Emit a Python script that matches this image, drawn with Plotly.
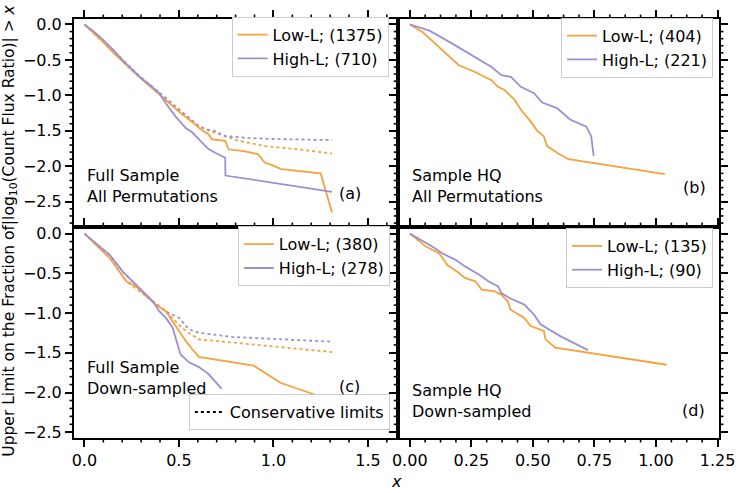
import plotly.graph_objects as go

ORANGE = "#f5a13d"
PURPLE = "#9c90d2"
FONT = "DejaVu Sans"
FS = 16

# ---------------- Panel (a): Full sample, all permutations ----------------
a_low_x = [0, 0.05, 0.10, 0.15, 0.222, 0.309, 0.36, 0.43, 0.509, 0.587, 0.62, 0.658, 0.675, 0.745, 0.763, 0.85, 0.92, 0.955, 0.99, 1.04, 1.25, 1.31]
a_low_y = [0, -0.12, -0.25, -0.39, -0.575, -0.785, -0.90, -1.06, -1.25, -1.41, -1.49, -1.55, -1.62, -1.64, -1.76, -1.79, -1.83, -1.95, -1.98, -2.04, -2.10, -2.65]
a_high_x = [0, 0.05, 0.10, 0.15, 0.203, 0.25, 0.292, 0.34, 0.397, 0.43, 0.483, 0.536, 0.57, 0.606, 0.658, 0.70, 0.745, 0.746, 1.31]
a_high_y = [0, -0.10, -0.22, -0.35, -0.505, -0.62, -0.737, -0.84, -0.97, -1.11, -1.30, -1.46, -1.52, -1.62, -1.76, -1.82, -1.88, -2.13, -2.36]
a_low_cons_x = [0, 0.10, 0.222, 0.309, 0.43, 0.48, 0.536, 0.58, 0.64, 0.70, 0.745, 0.816, 0.955, 1.13, 1.31]
a_low_cons_y = [0, -0.25, -0.575, -0.785, -1.06, -1.17, -1.30, -1.39, -1.48, -1.54, -1.575, -1.64, -1.715, -1.76, -1.82]
a_high_cons_x = [0, 0.10, 0.203, 0.292, 0.397, 0.45, 0.50, 0.553, 0.606, 0.65, 0.693, 0.745, 0.868, 1.0, 1.31]
a_high_cons_y = [0, -0.22, -0.50, -0.73, -0.96, -1.08, -1.20, -1.31, -1.435, -1.48, -1.505, -1.575, -1.60, -1.615, -1.63]

# ---------------- Panel (b): Sample HQ, all permutations ----------------
b_low_x = [0, 0.053, 0.10, 0.146, 0.199, 0.265, 0.332, 0.358, 0.385, 0.425, 0.451, 0.491, 0.518, 0.544, 0.558, 0.598, 0.645, 1.036]
b_low_y = [0, -0.11, -0.26, -0.41, -0.575, -0.67, -0.785, -0.88, -0.925, -1.06, -1.20, -1.37, -1.50, -1.575, -1.715, -1.81, -1.90, -2.11]
b_high_x = [0, 0.08, 0.173, 0.253, 0.332, 0.372, 0.411, 0.451, 0.505, 0.538, 0.598, 0.651, 0.717, 0.737, 0.747]
b_high_y = [0, -0.087, -0.27, -0.435, -0.60, -0.715, -0.74, -0.88, -0.97, -1.10, -1.18, -1.34, -1.44, -1.575, -1.855]

# ---------------- Panel (c): Full sample, down-sampled ----------------
c_low_x = [0, 0.135, 0.222, 0.274, 0.327, 0.379, 0.431, 0.466, 0.501, 0.536, 0.571, 0.606, 0.894, 1.04, 1.31]
c_low_y = [0, -0.31, -0.60, -0.665, -0.79, -0.895, -0.976, -1.10, -1.225, -1.35, -1.455, -1.55, -1.66, -1.88, -2.10]
c_high_x = [0, 0.135, 0.204, 0.274, 0.361, 0.396, 0.431, 0.466, 0.483, 0.509, 0.553, 0.606, 0.658, 0.725]
c_high_y = [0, -0.27, -0.48, -0.64, -0.85, -0.976, -1.06, -1.18, -1.31, -1.52, -1.62, -1.68, -1.77, -1.95]
c_low_cons_x = [0, 0.135, 0.222, 0.327, 0.431, 0.501, 0.536, 0.606, 0.78, 1.04, 1.31]
c_low_cons_y = [0, -0.31, -0.60, -0.79, -0.976, -1.15, -1.225, -1.33, -1.37, -1.425, -1.49]
c_high_cons_x = [0, 0.135, 0.204, 0.274, 0.361, 0.431, 0.501, 0.553, 0.606, 0.78, 1.31]
c_high_cons_y = [0, -0.27, -0.48, -0.64, -0.85, -0.98, -1.06, -1.205, -1.247, -1.30, -1.36]

# ---------------- Panel (d): Sample HQ, down-sampled ----------------
d_low_x = [0, 0.067, 0.12, 0.153, 0.193, 0.226, 0.266, 0.292, 0.345, 0.372, 0.398, 0.409, 0.465, 0.491, 0.545, 0.551, 0.591, 1.043]
d_low_y = [0, -0.166, -0.25, -0.395, -0.48, -0.56, -0.60, -0.705, -0.727, -0.77, -0.85, -0.955, -1.06, -1.163, -1.225, -1.33, -1.434, -1.65]
d_high_x = [0, 0.093, 0.133, 0.186, 0.226, 0.279, 0.319, 0.359, 0.372, 0.405, 0.465, 0.505, 0.531, 0.611, 0.724]
d_high_y = [0, -0.166, -0.25, -0.33, -0.415, -0.51, -0.60, -0.665, -0.748, -0.81, -0.893, -1.02, -1.14, -1.29, -1.466]

legend_names = {
    "a": ("Low-L; (1375)", "High-L; (710)"),
    "b": ("Low-L; (404)", "High-L; (221)"),
    "c": ("Low-L; (380)", "High-L; (278)"),
    "d": ("Low-L; (135)", "High-L; (90)"),
}
panel_text = {
    "a": "Full Sample<br>All Permutations",
    "b": "Sample HQ<br>All Permutations",
    "c": "Full Sample<br>Down-sampled",
    "d": "Sample HQ<br>Down-sampled",
}

fig = go.Figure()
LW = 1.8

def line(x, y, color, name, ax, leg, dash="solid", show=True, group=None):
    fig.add_trace(go.Scatter(
        x=x, y=y, mode="lines", name=name,
        line=dict(color=color, width=LW, dash=dash),
        xaxis=ax[0], yaxis=ax[1], legend=leg, showlegend=show,
        legendgroup=group, hoverinfo="skip"))

# panel a
line(a_low_cons_x, a_low_cons_y, ORANGE, "cons", ("x", "y"), "legend", dash="dot", show=False)
line(a_high_cons_x, a_high_cons_y, PURPLE, "cons", ("x", "y"), "legend", dash="dot", show=False)
line(a_low_x, a_low_y, ORANGE, legend_names["a"][0], ("x", "y"), "legend", group="a1")
line(a_high_x, a_high_y, PURPLE, legend_names["a"][1], ("x", "y"), "legend", group="a2")
# panel b
line(b_low_x, b_low_y, ORANGE, legend_names["b"][0], ("x2", "y2"), "legend2", group="b1")
line(b_high_x, b_high_y, PURPLE, legend_names["b"][1], ("x2", "y2"), "legend2", group="b2")
# panel c
line(c_low_cons_x, c_low_cons_y, ORANGE, "cons", ("x3", "y3"), "legend3", dash="dot", show=False)
line(c_high_cons_x, c_high_cons_y, PURPLE, "cons", ("x3", "y3"), "legend3", dash="dot", show=False)
line(c_low_x, c_low_y, ORANGE, legend_names["c"][0], ("x3", "y3"), "legend3", group="c1")
line(c_high_x, c_high_y, PURPLE, legend_names["c"][1], ("x3", "y3"), "legend3", group="c2")
line([None], [None], "black", "Conservative limits", ("x3", "y3"), "legend5", dash="dot")
# panel d
line(d_low_x, d_low_y, ORANGE, legend_names["d"][0], ("x4", "y4"), "legend4", group="d1")
line(d_high_x, d_high_y, PURPLE, legend_names["d"][1], ("x4", "y4"), "legend4", group="d2")

L, R, T, B = 74, 21, 15, 55
W, H = 747, 493
pw, ph = W - L - R, H - T - B
xsplit = (401.7 - L) / pw
ysplit = 1 - (225 - T) / ph

def axis(domain, rng, dtick, side, labels, mirror, fmt, anchor):
    return dict(
        domain=domain, range=rng, anchor=anchor, side=side,
        showline=True, linecolor="black", linewidth=2, mirror=mirror,
        ticks="outside", ticklen=7, tickwidth=1.5, tickcolor="black",
        tickmode="linear", tick0=0, dtick=dtick, tickformat=fmt, showticklabels=labels,
        showgrid=False, zeroline=False,
        tickfont=dict(family=FONT, size=FS, color="black"),
    )

xr_ac = [-0.055, 1.66]
xr_bd = [-0.047, 1.256]
yr_ab = [-2.856, 0.077]
yr_cd = [-2.572, 0.0835]

leg_common = dict(bgcolor="white", bordercolor="#cccccc", borderwidth=1,
                  font=dict(family=FONT, size=FS, color="black"),
                  xanchor="right", yanchor="top", tracegroupgap=0)

LEG_SHIFT = 9

fig.update_layout(
    width=W, height=H,
    margin=dict(l=L, r=R, t=T, b=B),
    paper_bgcolor="white", plot_bgcolor="white",
    font=dict(family=FONT, size=FS, color="black"),
    xaxis=axis([0, xsplit], xr_ac, 0.5, "top", False, True, ".1f", "y"),
    yaxis=axis([ysplit, 1], yr_ab, 0.5, "left", True, True, ".1f", "x"),
    xaxis2=axis([xsplit, 1], xr_bd, 0.25, "top", False, True, ".2f", "y2"),
    yaxis2=axis([ysplit, 1], yr_ab, 0.5, "left", False, "ticks", ".1f", "x2"),
    xaxis3=axis([0, xsplit], xr_ac, 0.5, "bottom", True, "ticks", ".1f", "y3"),
    yaxis3=axis([0, ysplit], yr_cd, 0.5, "left", True, True, ".1f", "x3"),
    xaxis4=axis([xsplit, 1], xr_bd, 0.25, "bottom", True, "ticks", ".2f", "y4"),
    yaxis4=axis([0, ysplit], yr_cd, 0.5, "left", False, "ticks", ".1f", "x4"),
    legend=dict(x=(392 - L) / pw, y=1 - (21.7 - LEG_SHIFT - T) / ph, **leg_common),
    legend2=dict(x=(720 - L) / pw, y=1 - (22.7 - LEG_SHIFT - T) / ph, **leg_common),
    legend3=dict(x=(393.3 - L) / pw, y=1 - (233.3 - LEG_SHIFT - T) / ph, **leg_common),
    legend4=dict(x=(720 - L) / pw, y=1 - (235 - LEG_SHIFT - T) / ph, **leg_common),
    legend5=dict(x=(393.3 - L) / pw, y=1 - (430 - T) / ph,
                 **{**leg_common, "yanchor": "bottom"}),
    showlegend=True,
)

# ---- minor tick marks (short outward ticks), axis decorations in paper coords ----
MINOR_LEN = 4.5
panel_dom = {  # panel -> (x domain, y domain, x range, y range)
    "a": ([0, xsplit], [ysplit, 1], xr_ac, yr_ab),
    "b": ([xsplit, 1], [ysplit, 1], xr_bd, yr_ab),
    "c": ([0, xsplit], [0, ysplit], xr_ac, yr_cd),
    "d": ([xsplit, 1], [0, ysplit], xr_bd, yr_cd),
}

def minor_vals(rng, step, major):
    vals = []
    k0 = int(rng[0] / step) - 1
    k1 = int(rng[1] / step) + 1
    for k in range(k0, k1 + 1):
        v = round(k * step, 6)
        if rng[0] <= v <= rng[1] and abs(v / major - round(v / major)) > 1e-6:
            vals.append(v)
    return vals

shapes = []
def minor_ticks(p, xstep, xmajor, ystep, ymajor, sides):
    xd, yd, xr, yr = panel_dom[p]
    dx = MINOR_LEN / pw
    dy = MINOR_LEN / ph
    style = dict(type="line", xref="paper", yref="paper",
                 line=dict(color="black", width=1.6), layer="above")
    for v in minor_vals(xr, xstep, xmajor):
        xp = xd[0] + (v - xr[0]) / (xr[1] - xr[0]) * (xd[1] - xd[0])
        if "top" in sides:
            shapes.append(dict(x0=xp, x1=xp, y0=yd[1], y1=yd[1] + dy, **style))
        if "bottom" in sides:
            shapes.append(dict(x0=xp, x1=xp, y0=yd[0], y1=yd[0] - dy, **style))
    for v in minor_vals(yr, ystep, ymajor):
        yp = yd[0] + (v - yr[0]) / (yr[1] - yr[0]) * (yd[1] - yd[0])
        if "left" in sides:
            shapes.append(dict(x0=xd[0], x1=xd[0] - dx, y0=yp, y1=yp, **style))
        if "right" in sides:
            shapes.append(dict(x0=xd[1], x1=xd[1] + dx, y0=yp, y1=yp, **style))

minor_ticks("a", 0.1, 0.5, 0.1, 0.5, ["top", "left"])
minor_ticks("b", 0.0625, 0.25, 0.1, 0.5, ["top", "left", "right"])
minor_ticks("c", 0.1, 0.5, 0.1, 0.5, ["top", "bottom", "left"])
minor_ticks("d", 0.0625, 0.25, 0.1, 0.5, ["top", "bottom", "left", "right"])

ann = []
def txt(text, x, y, xref, yref, xanchor="left", yanchor="middle", size=FS, **kw):
    ann.append(dict(text=text, x=x, y=y, xref=xref, yref=yref, showarrow=False,
                    xanchor=xanchor, yanchor=yanchor, align="left",
                    font=dict(family=FONT, size=size, color="black"), **kw))

txt(panel_text["a"], 0.034, 0.195, "x domain", "y domain")
txt("(a)", 0.851, 0.159, "x domain", "y domain", xanchor="center")
txt(panel_text["b"], 0.038, 0.195, "x2 domain", "y2 domain")
txt("(b)", 0.923, 0.19, "x2 domain", "y2 domain", xanchor="center")
txt(panel_text["c"], 0.034, 0.286, "x3 domain", "y3 domain")
txt("(c)", 0.85, 0.2455, "x3 domain", "y3 domain", xanchor="center")
txt(panel_text["d"], 0.038, 0.176, "x4 domain", "y4 domain")
txt("(d)", 0.92, 0.131, "x4 domain", "y4 domain", xanchor="center")

txt("Upper Limit on the Fraction of|log<sub>10</sub>(Count Flux Ratio)| &gt; <i>x</i>",
    (9 - L) / pw, 1 - (229 - T) / ph, "paper", "paper", xanchor="center", size=15.5, textangle=-90)
txt("<i>x</i>", (400 - L) / pw, 1 - (482 - T) / ph, "paper", "paper", xanchor="center")

fig.update_layout(annotations=ann, shapes=shapes)
fig.write_html("out.html", config={"displayModeBar": False},
               post_script="document.body.style.margin='0px';document.body.style.padding='0px';")
